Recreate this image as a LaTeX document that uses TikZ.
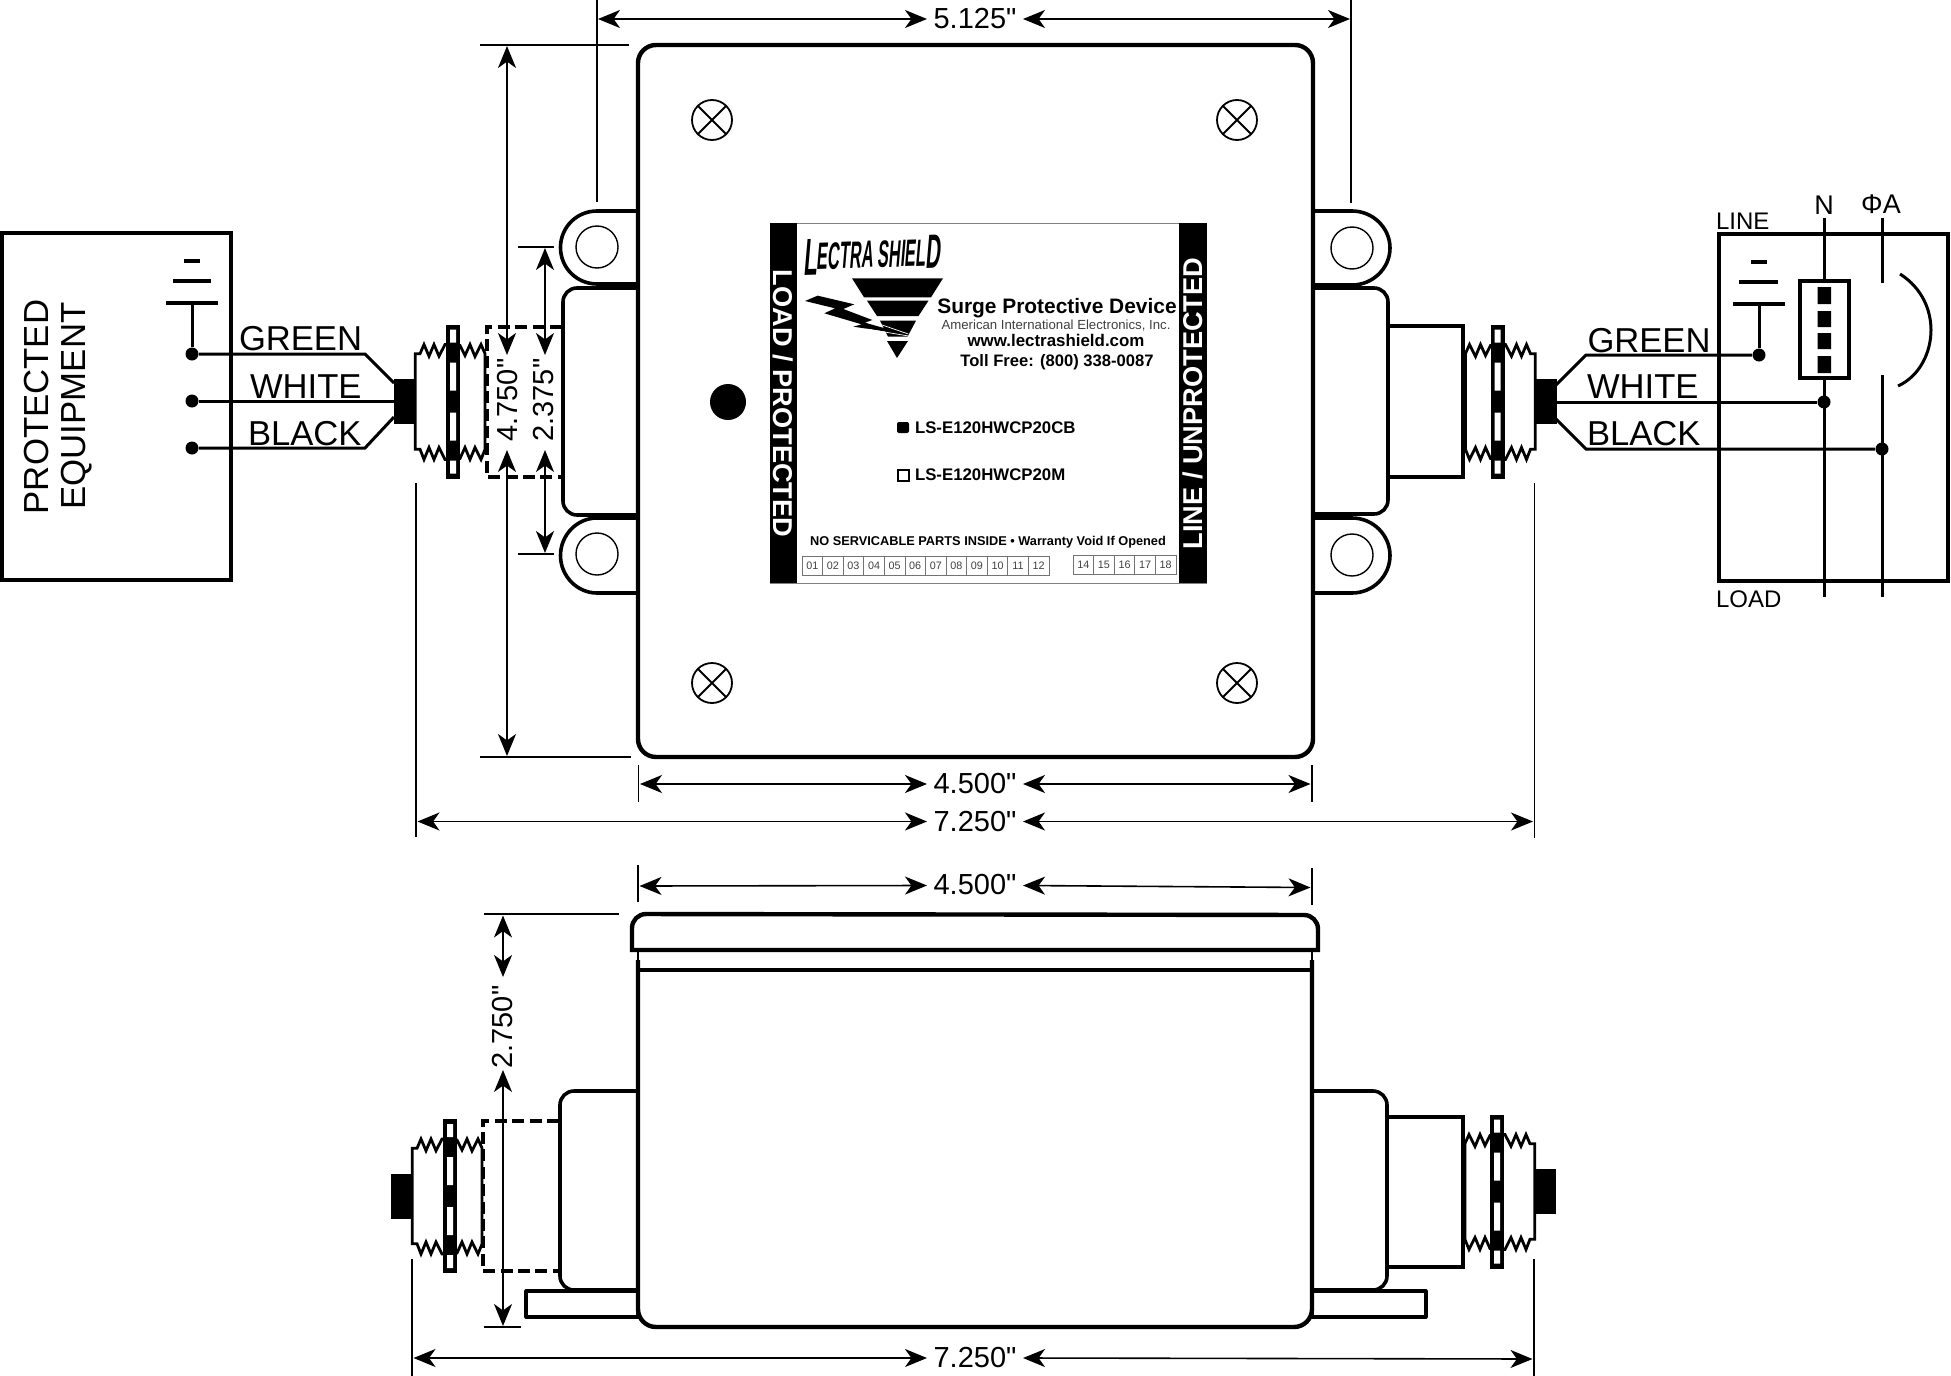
\documentclass[tikz,border=0pt]{standalone}
\usepackage{fontspec}
\setmainfont{Liberation Sans}
\newfontfamily\dimfont{Liberation Sans}
\newfontfamily\logofont[FakeSlant=0.12,FakeStretch=0.43]{Liberation Sans Bold}
\usetikzlibrary{arrows.meta}
\tikzset{
  px/.style={x=0.5pt,y=-0.5pt},
  txt/.style={inner sep=0pt,outer sep=0pt,text=black},
  dimtext/.style={txt,font=\dimfont\fontsize{14.5pt}{14.5pt}\selectfont},
  wirelabel/.style={txt,anchor=base west,font=\fontsize{17.3pt}{17.3pt}\selectfont},
  dimline/.style={line width=0.8pt,{Stealth[length=11pt,width=9pt,inset=3.2pt]}-{Stealth[length=11pt,width=9pt,inset=3.2pt]}},
  extline/.style={line width=0.8pt},
  heavy/.style={line width=2.2pt,line join=round},
  medium/.style={line width=1.8pt,line join=round},
  wire/.style={line width=1.5pt,line join=miter},
  dashedline/.style={line width=1.8pt,dash pattern=on 6pt off 2.7pt},
  dot/.style={circle,fill=black,inner sep=0pt,minimum size=6.5pt},
  screw/.style={line width=0.9pt},
  barlabel/.style={txt,text=white,font=\fontsize{13.6pt}{13.6pt}\selectfont\bfseries},
  sticker/.style={txt,font=\bfseries},
  cell/.style={line width=0.35pt,draw=black!55},
}
\newcommand\Fitting[3]{%
  \begin{scope}[shift={(#1,#2)},xscale=#3]
    \fill[black] (-59,-22.5) rectangle (-37,22.5);
    \draw[line width=1.4pt,fill=white,line join=miter]
      (-37.7,-47.7)--(-33,-47.7)--(-29,-57)--(-24,-45.3)--(-19,-57)--(-14,-45.3)--(-8,-57)--(7,-56)
      --(12,-46)--(17,-57)--(22,-45)--(28,-57)--(32,-48)--(32,48)
      --(28,58)--(22,46)--(17,58)--(12,46)--(7,57)--(-8,58)--(-14,46)--(-19,58)--(-24,46)--(-29,58)--(-33,47.7)--(-37.7,47.7)--cycle;
    \fill[black] (-7,-77) rectangle (7,77);
    \fill[white] (-3,-72) rectangle (3,-59) (-3,-39) rectangle (3,-11) (-3,11) rectangle (3,39) (-3,59) rectangle (3,72);
  \end{scope}}
\newcommand\Screw[2]{%
  \draw[screw] (#1,#2) circle[radius=10pt];
  \draw[screw] (#1-14,#2-14)--(#1+14,#2+14) (#1-14,#2+14)--(#1+14,#2-14);}
\begin{document}
\begin{tikzpicture}[px]
\useasboundingbox (0,0) rectangle (1951,1376);
\fill[white] (0,0) rectangle (1951,1376);

% ---- Protected equipment box
\draw[medium,line join=miter] (2,233) rectangle (231,580);
\node[txt,rotate=90,font=\fontsize{17.4pt}{17.4pt}\selectfont] (prot) at (36.5,407) {PROTECTED};
\node[txt,rotate=90,font=\fontsize{17.4pt}{17.4pt}\selectfont] (equip) at (76.5,406) {EQUIPMENT};
\node[dot] (lg) at (192,354) {};
\node[dot] (lw) at (192,401) {};
\node[dot] (lb) at (192,448) {};
\coordinate (lgtop) at (192,303);
\draw[wire] (lg)--(lgtop);
\draw[wire,line width=1.7pt] (166,303)--(218,303) (173,281)--(211,281) (184,261)--(200,261);
\coordinate (lfg) at (394,383);
\coordinate (lfw) at (394,401);
\coordinate (lfb) at (394,417);
\draw[wire] (lg)--(365,354)--(lfg);
\draw[wire] (lw)--(lfw);
\draw[wire] (lb)--(365,448)--(lfb);
\node[wirelabel] (lgreen) at (239,350) {GREEN};
\node[wirelabel] (lwhite) at (250,398) {WHITE};
\node[wirelabel] (lblack) at (248,445) {BLACK};

% ---- Top view: tabs
\draw[medium] (638,211)--(597,211) .. controls (577,211) and (560.5,227) .. (560.5,247.5) .. controls (560.5,268) and (577,284) .. (597,284)--(638,284);
\draw[medium] (638,518)--(597,518) .. controls (577,518) and (560.5,535) .. (560.5,555.5) .. controls (560.5,576) and (577,593) .. (597,593)--(638,593);
\draw[medium] (1313,211)--(1352,211) .. controls (1373,211) and (1390,228) .. (1390,248) .. controls (1390,268) and (1373,285) .. (1352,285)--(1313,285);
\draw[medium] (1313,518)--(1352,518) .. controls (1373,518) and (1390,535) .. (1390,555.5) .. controls (1390,576) and (1373,593) .. (1352,593)--(1313,593);
\draw[line width=0.7pt] (597,247) circle[radius=10.5pt] (597,554) circle[radius=10.5pt] (1352,248) circle[radius=10.5pt] (1352,555) circle[radius=10.5pt];

% ---- Top view: side boxes, extension, fittings
\draw[medium,rounded corners=7pt] (638,288)--(563,288)--(563,515)--(638,515);
\draw[medium,rounded corners=7pt] (1313,288)--(1388,288)--(1388,514)--(1313,514);
\draw[medium,line join=miter] (1388,326)--(1463,326)--(1463,477)--(1388,477);
\Fitting{453}{401.5}{1}
\Fitting{1497.5}{401.5}{-1}
\draw[dashedline] (562,327)--(487,327)--(487,477)--(562,477);

% ---- Top view: main enclosure
\draw[heavy,rounded corners=9pt,fill=white] (638,45) rectangle (1313,757);
\Screw{712}{120}
\Screw{1237}{120}
\Screw{712}{683}
\Screw{1237}{683}
\node[circle,fill=black,inner sep=0pt,minimum size=18pt] (hole) at (728,402) {};

% ---- Sticker
\draw[line width=0.5pt,draw=black!50] (770,223)--(1207,223) (770,583)--(1207,583);
\fill[black] (770,223) rectangle (797,583);
\fill[black] (1179,223) rectangle (1207,583);
\node[barlabel,rotate=-90] (barl) at (783.5,403.5) {LOAD / PROTECTED};
\node[barlabel,rotate=90] (barr) at (1193,403.5) {LINE / UNPROTECTED};
\node[txt,rotate=2,anchor=base west,font=\logofont] (logo) at (803,270)
  {\fontsize{26pt}{26pt}\selectfont\raisebox{-3pt}{L}\fontsize{19pt}{19pt}\selectfont ECTRA SHIEL\raisebox{-1.5pt}{\fontsize{24pt}{24pt}\selectfont D}};
\fill[black] (852,278.3)--(943,278.3)--(931,297.3)--(864,297.3)--cycle;
\fill[black] (867,300.7)--(928.5,300.7)--(918.5,316)--(877,316)--cycle;
\fill[black] (880,320.7)--(916,320.7)--(907.5,336.7)--(888,336.7)--cycle;
\fill[black] (887,341)--(908,341)--(897,358)--cycle;
\begin{scope}[shift={(795,225)},scale=0.3333]
  \fill[black] (30,228)--(68,212)--(178,238)--(145,252)--(232,285)--(210,293)--(340,330)--(175,305)--(200,298)--(88,265)--(120,250)--cycle;
  \draw[white,line width=0.35pt] (238,292)--(340,327) (215,312)--(340,333);
\end{scope}
\node[sticker,font=\fontsize{10.45pt}{10.45pt}\selectfont\bfseries,anchor=base] (spd) at (1057,313) {Surge Protective Device};
\node[txt,text=black!75,font=\fontsize{6.6pt}{6.6pt}\selectfont,anchor=base] (aie) at (1056,329) {American International Electronics, Inc.};
\node[sticker,font=\fontsize{8.45pt}{8.45pt}\selectfont\bfseries,anchor=base] (www) at (1056,346) {www.lectrashield.com};
\node[sticker,font=\fontsize{8.3pt}{8.3pt}\selectfont\bfseries,anchor=base] (toll) at (1057,366) {Toll Free: (800) 338-0087};
\fill[black,rounded corners=1pt] (897,422) rectangle (909,433);
\draw[line width=1pt] (897.5,470) rectangle (908.5,480.5);
\node[sticker,font=\fontsize{8.4pt}{8.4pt}\selectfont\bfseries,anchor=base west] (pa) at (915,433) {LS-E120HWCP20CB};
\node[sticker,font=\fontsize{8.4pt}{8.4pt}\selectfont\bfseries,anchor=base west] (pb) at (915,480) {LS-E120HWCP20M};
\node[sticker,font=\fontsize{6.38pt}{6.38pt}\selectfont\bfseries,anchor=base] (warn) at (988,545) {NO SERVICABLE PARTS INSIDE • Warranty Void If Opened};
\foreach \n [count=\i from 0] in {01,02,03,04,05,06,07,08,09,10,11,12}{
  \draw[cell] ({802+20.58*\i},556) rectangle ({802+20.58*(\i+1)},575);
  \node[txt,text=black!75,font=\fontsize{5.4pt}{5.4pt}\selectfont] (c\n) at ({802+20.58*(\i+0.5)},565.5) {\n};
}
\foreach \n [count=\i from 0] in {14,15,16,17,18}{
  \draw[cell] ({1073+20.6*\i},555) rectangle ({1073+20.6*(\i+1)},574);
  \node[txt,text=black!75,font=\fontsize{5.4pt}{5.4pt}\selectfont] (c\n) at ({1073+20.6*(\i+0.5)},564.5) {\n};
}

% ---- Right: line box
\draw[medium,line join=miter] (1719,234) rectangle (1948,581);
\node[txt,anchor=base west,font=\fontsize{12pt}{12pt}\selectfont] (line) at (1716,229) {LINE};
\node[txt,anchor=base west,font=\fontsize{12pt}{12pt}\selectfont] (load) at (1716,607) {LOAD};
\node[txt,font=\fontsize{13.5pt}{13.5pt}\selectfont] (nlab) at (1824,205) {N};
\node[txt,font=\fontsize{13.5pt}{13.5pt}\selectfont] (phi) at (1881,204) {ΦA};
\coordinate (ntop) at (1824,218);
\coordinate (nbot) at (1824,597);
\draw[wire] (ntop)--(nbot);
\coordinate (atop) at (1882,218);
\coordinate (abot) at (1882,597);
\draw[wire] (atop)--(1882,283) (1882,375)--(abot);
\draw[wire] (1900,274) .. controls (1922,288) and (1931,310) .. (1931,330) .. controls (1931,352) and (1920,376) .. (1898,386);
\draw[line width=1.7pt,fill=white,line join=miter] (1800,281) rectangle (1849,378);
\fill[black] (1817.5,287) rectangle (1831,304) (1817.5,311) rectangle (1831,327) (1817.5,333) rectangle (1831,349) (1817.5,356) rectangle (1831,373);
\node[dot] (rg) at (1759,355) {};
\node[dot] (rw) at (1824,402) {};
\node[dot] (rb) at (1882,449) {};
\coordinate (rgtop) at (1759,304);
\draw[wire] (rg)--(rgtop);
\draw[wire,line width=1.7pt] (1733,304)--(1785,304) (1739,282)--(1778,282) (1751,262)--(1767,262);
\coordinate (rfg) at (1556,385);
\coordinate (rfw) at (1556,402);
\coordinate (rfb) at (1556,419);
\draw[wire] (rg)--(1586,355)--(rfg);
\draw[wire] (rw)--(rfw);
\draw[wire] (rb)--(1586,449)--(rfb);
\node[wirelabel] (rgreen) at (1587.5,352) {GREEN};
\node[wirelabel] (rwhite) at (1587,398) {WHITE};
\node[wirelabel] (rblack) at (1587,445.5) {BLACK};

% ---- Top view dimensions
\coordinate (e5a) at (597,0); \coordinate (e5b) at (597,202);
\coordinate (e5c) at (1351,0); \coordinate (e5d) at (1351,203);
\draw[extline] (e5a)--(e5b) (e5c)--(e5d);
\node[dimtext] (d5) at (975,19) {5.125"};
\draw[dimline] (598,19)--(927,19);
\draw[dimline] (1023,19)--(1350,19);
\draw[extline] (480,45)--(629,45) (480,757)--(631,757);
\node[dimtext,rotate=90] (d4) at (508,400) {4.750"};
\draw[dimline] (507,46)--(507,355);
\draw[dimline] (507,450)--(507,756);
\draw[extline] (518,247)--(554,247) (518,554)--(554,554);
\node[dimtext,rotate=90] (d2) at (544,400) {2.375"};
\draw[dimline] (545,248)--(545,355);
\draw[dimline] (545,450)--(545,553);
\draw[extline] (638.5,765)--(638.5,802) (1312,765)--(1312,802);
\node[dimtext] (d45a) at (975,784) {4.500"};
\draw[dimline] (640,784)--(927,784);
\draw[dimline] (1023,784)--(1310.5,784);
\draw[extline] (416,483)--(416,837) (1534.5,483)--(1534.5,838);
\node[dimtext] (d72a) at (975,821.5) {7.250"};
\draw[dimline] (417.5,821.5)--(927,821.5);
\draw[dimline] (1023,821.5)--(1533,821.5);

% ---- Lower view
\draw[extline] (638,865)--(638,902) (1312,868)--(1312,905);
\node[dimtext] (d45b) at (975,885) {4.500"};
\draw[dimline] (639.5,886)--(927,885.5);
\draw[dimline] (1023,885.5)--(1310.5,887.5);

\draw[medium,line width=1.6pt] (526,1291) rectangle (638,1317);
\draw[medium,line width=1.6pt] (1312,1291) rectangle (1426,1317);
\draw[medium,rounded corners=7pt] (638,1091)--(560,1091)--(560,1290)--(638,1290);
\draw[medium,rounded corners=7pt] (1312,1091)--(1387,1091)--(1387,1290)--(1312,1290);
\draw[medium,line join=miter] (1387,1117)--(1463,1117)--(1463,1267)--(1387,1267);
\Fitting{450}{1196}{1}
\Fitting{1497}{1191.5}{-1}
\draw[dashedline] (559,1121)--(483,1121)--(483,1271)--(559,1271);

\draw[heavy,rounded corners=9pt,fill=white] (638,960)--(638,1327)--(1312,1327)--(1312,960);
\draw[line width=1.3pt] (638,950)--(638,970) (1312,950)--(1312,970);
\draw[line width=1.7pt] (638,970)--(1312,970);
\draw[heavy,fill=white,line join=miter] (632,950) -- (632,930) [rounded corners=7pt] -- (632,914) -- (1318,915) [sharp corners] -- (1318,950) -- cycle;
\draw[line width=1.5pt] (632,950)--(1318,950);
\draw[extline] (484,914)--(619,914) (484,1327)--(521,1327);
\node[dimtext,rotate=90] (d27) at (503,1027) {2.750"};
\draw[dimline] (503,915.5)--(503,977);
\draw[dimline] (503,1070)--(503,1326);
\draw[extline] (412,1259)--(412,1376) (1534,1259)--(1534,1376);
\node[dimtext] (d72b) at (975,1358) {7.250"};
\draw[dimline] (413.5,1358)--(927,1358);
\draw[dimline] (1023,1358)--(1532.5,1359);
\end{tikzpicture}
\end{document}
